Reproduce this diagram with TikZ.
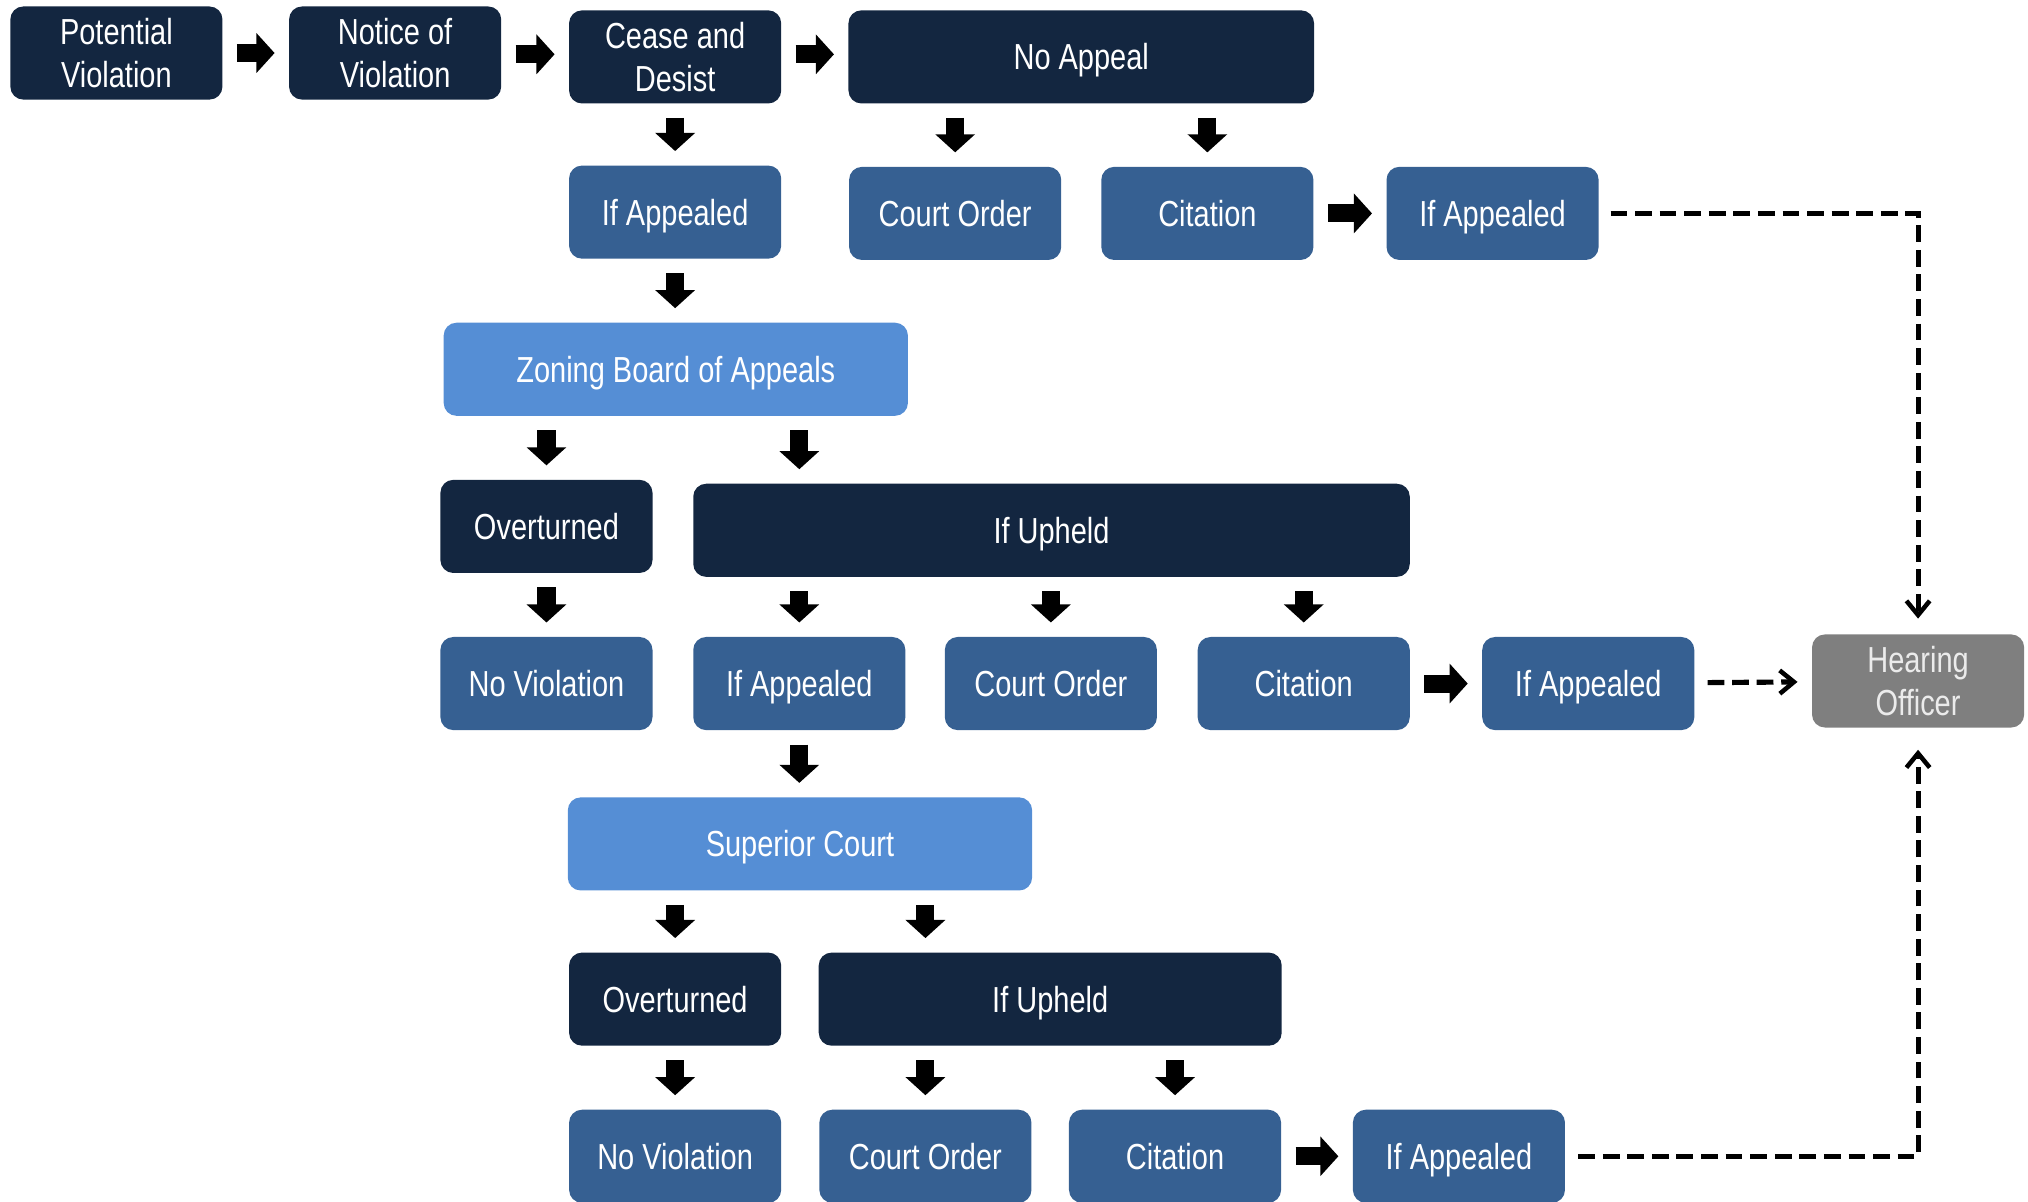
\documentclass[tikz,border=0pt]{standalone}
\usepackage{fontspec}
\setmainfont{Liberation Sans}[FakeStretch=0.8]
\usetikzlibrary{arrows.meta,positioning}

\definecolor{navyBox}{HTML}{132640}
\definecolor{midBox}{HTML}{366092}
\definecolor{lightBox}{HTML}{558ED5}
\definecolor{greyBox}{HTML}{7F7F7F}

\tikzset{
  every stepBox/.style={rounded corners=10pt, inner sep=0pt, align=center, text=white,
    minimum width=164pt, minimum height=72pt, font=\fontsize{28}{33}\selectfont},
  oneLine/.style={text height=20pt, text depth=0pt},
  darkStep/.style={every stepBox, fill=navyBox},
  midStep/.style={every stepBox, oneLine, fill=midBox},
  lightStep/.style={every stepBox, oneLine, fill=lightBox},
  greyStep/.style={every stepBox, fill=greyBox, text=white!92!black},
  blockArrow/.style={line width=14pt, -{Triangle[width=30pt,length=14pt]},
    shorten <=11pt, shorten >=11pt},
  dashArrow/.style={line width=4pt, dash pattern=on 13pt off 6pt,
    -{Straight Barb[width=18pt,length=11pt,line width=3.5pt]}}
}

\begin{document}
\begin{tikzpicture}[x=1pt, y=-1pt]
\useasboundingbox (0,0) rectangle (1568,929);

% first row
\node [darkStep] (potential) at (90,41) {Potential\\Violation};
\node [darkStep] (notice) at (305.5,41) {Notice of\\Violation};
\node [darkStep] (cease) at (522,44) {Cease and\\Desist};
\node [darkStep, oneLine, minimum width=360pt] (noAppeal) at (836,44) {No Appeal};

% second row
\node [midStep] (appeal-1) at (522,164) {If Appealed};
\node [midStep] (order-1) at (738.5,165) {Court Order};
\node [midStep] (citation-1) at (933.5,165) {Citation};
\node [midStep] (appeal-2) at (1154,165) {If Appealed};

% zoning board
\node [lightStep, minimum width=359pt] (zoning) at (522.5,285.5) {Zoning Board of Appeals};

\node [darkStep, oneLine] (overturned-1) at (422.5,407) {Overturned};
\node [darkStep, oneLine, minimum width=554pt] (upheld-1) at (813,410) {If Upheld};

\foreach \m/\l/\x in {violation-1/No Violation/422.5, appeal-3/If Appealed/618,
    order-2/Court Order/812.5, citation-2/Citation/1008, appeal-4/If Appealed/1228}
  \node [midStep] (\m) at (\x,528.5) {\l};

\node [greyStep] (hearing) at (1483,526.5) {Hearing\\Officer};

% superior court
\node [lightStep, minimum width=359pt] (superior) at (618.5,652.5) {Superior Court};

\node [darkStep, oneLine] (overturned-2) at (522,772.5) {Overturned};
\node [darkStep, oneLine, minimum width=358pt] (upheld-2) at (812,772.5) {If Upheld};

\foreach \m/\l/\x in {violation-2/No Violation/522, order-3/Court Order/715.5,
    citation-3/Citation/908.5, appeal-5/If Appealed/1128}
  \node [midStep] (\m) at (\x,894) {\l};

% block arrows to the right
\draw [blockArrow] (potential) -- (notice);
\draw [blockArrow] (notice.east |- 0,42) -- (cease.west |- 0,42);
\draw [blockArrow] (cease.east |- 0,42) -- (noAppeal.west |- 0,42);
\draw [blockArrow] (citation-1) -- (appeal-2);
\draw [blockArrow] (citation-2) -- (appeal-4);
\draw [blockArrow] (citation-3) -- (appeal-5);

% block arrows down
\draw [blockArrow] (cease) -- (appeal-1);
\foreach \j in {order-1, citation-1}
  \draw [blockArrow] (noAppeal.south -| \j) -- (\j);
\draw [blockArrow] (appeal-1) -- (zoning.north -| appeal-1);
\draw [blockArrow] (zoning.south -| overturned-1) -- (overturned-1);
\draw [blockArrow] (zoning.south -| appeal-3) -- (upheld-1.north -| appeal-3);
\draw [blockArrow] (overturned-1) -- (violation-1);
\foreach \j in {appeal-3, order-2, citation-2}
  \draw [blockArrow] (upheld-1.south -| \j) -- (\j);
\draw [blockArrow] (appeal-3) -- (superior.north -| appeal-3);
\draw [blockArrow] (superior.south -| overturned-2) -- (overturned-2);
\draw [blockArrow] (superior.south -| order-3) -- (upheld-2.north -| order-3);
\draw [blockArrow] (overturned-2) -- (violation-2);
\foreach \j in {order-3, citation-3}
  \draw [blockArrow] (upheld-2.south -| \j) -- (\j);

% dashed paths to the hearing officer
\draw [dashArrow, shorten <=9pt, shorten >=12pt] (appeal-2) -| (hearing);
\draw [dashArrow, shorten <=10pt, shorten >=11pt] (appeal-4) -- (hearing);
\draw [dashArrow, shorten <=10pt, shorten >=17pt] (appeal-5) -| (hearing);

\end{tikzpicture}
\end{document}
